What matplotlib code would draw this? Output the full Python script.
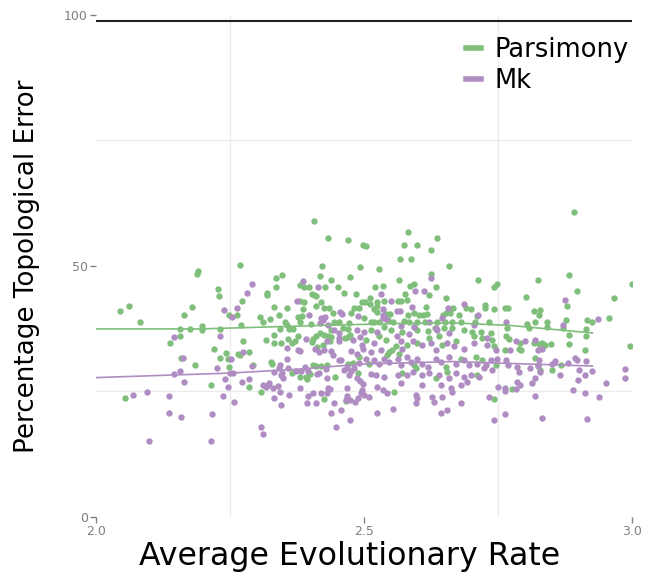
import matplotlib
matplotlib.use("Agg")
import matplotlib.pyplot as plt
from matplotlib.lines import Line2D

# Parsimony: average evolutionary rate vs percentage topological error
pars_rate = [
    2.044, 2.062, 2.082, 2.189, 2.191, 2.228, 2.229, 2.179, 2.164, 2.249, 2.157, 2.176,
    2.197, 2.197, 2.232, 2.138, 2.157, 2.221, 2.242, 2.232, 2.246, 2.159, 2.185, 2.248,
    2.214, 2.055, 2.407, 2.433, 2.471, 2.499, 2.268, 2.422, 2.493, 2.336, 2.348, 2.418,
    2.439, 2.475, 2.336, 2.380, 2.388, 2.398, 2.428, 2.451, 2.463, 2.485, 2.319, 2.320,
    2.403, 2.407, 2.410, 2.273, 2.380, 2.388, 2.420, 2.411, 2.496, 2.333, 2.356, 2.426,
    2.435, 2.482, 2.492, 2.387, 2.442, 2.477, 2.263, 2.306, 2.341, 2.378, 2.385, 2.271,
    2.312, 2.325, 2.353, 2.357, 2.380, 2.402, 2.444, 2.453, 2.473, 2.344, 2.361, 2.368,
    2.461, 2.471, 2.275, 2.318, 2.333, 2.332, 2.346, 2.359, 2.366, 2.372, 2.377, 2.403,
    2.405, 2.411, 2.413, 2.423, 2.419, 2.425, 2.434, 2.438, 2.437, 2.439, 2.465, 2.470,
    2.474, 2.286, 2.268, 2.265, 2.327, 2.329, 2.366, 2.380, 2.406, 2.411, 2.400, 2.392,
    2.394, 2.431, 2.420, 2.447, 2.471, 2.480, 2.491, 2.490, 2.286, 2.308, 2.425, 2.467,
    2.294, 2.583, 2.636, 2.504, 2.575, 2.600, 2.626, 2.567, 2.589, 2.659, 2.529, 2.625,
    2.566, 2.586, 2.594, 2.634, 2.714, 2.521, 2.535, 2.621, 2.577, 2.511, 2.524, 2.512,
    2.537, 2.564, 2.569, 2.580, 2.654, 2.667, 2.502, 2.616, 2.690, 2.700, 2.726, 2.726,
    2.744, 2.748, 2.744, 2.519, 2.525, 2.524, 2.542, 2.549, 2.583, 2.594, 2.603, 2.611,
    2.618, 2.648, 2.653, 2.661, 2.677, 2.712, 2.501, 2.513, 2.520, 2.528, 2.546, 2.555,
    2.575, 2.585, 2.599, 2.614, 2.637, 2.652, 2.664, 2.681, 2.708, 2.734, 2.513, 2.538,
    2.551, 2.572, 2.594, 2.600, 2.619, 2.633, 2.650, 2.665, 2.687, 2.703, 2.718, 2.737,
    2.529, 2.504, 2.541, 2.547, 2.553, 2.560, 2.581, 2.600, 2.622, 2.641, 2.647, 2.672,
    2.706, 2.721, 2.740, 2.743, 2.510, 2.544, 2.566, 2.594, 2.597, 2.653, 2.681, 2.709,
    2.721, 2.746, 2.572, 2.634, 2.557, 2.656, 2.712, 2.743, 2.893, 2.883, 2.825, 3.000,
    2.898, 2.802, 2.967, 2.879, 2.763, 2.769, 2.817, 2.830, 2.827, 2.878, 2.916, 2.927,
    2.957, 2.804, 2.819, 2.843, 2.843, 2.768, 2.809, 2.872, 2.915, 2.766, 2.771, 2.883,
    2.915, 2.791, 2.794, 2.790, 2.818, 2.827, 2.833, 2.838, 2.849, 2.763, 2.883, 2.913,
    2.998, 2.820, 2.825, 2.869, 2.852, 2.829, 2.777,
]
pars_error = [
    40.9, 42.0, 38.8, 48.4, 49.0, 45.4, 44.0, 41.8, 40.2, 40.1, 37.4, 37.4,
    38.0, 37.2, 37.4, 34.5, 35.9, 33.4, 32.7, 31.7, 31.4, 31.7, 30.3, 29.9,
    26.2, 23.7, 59.0, 55.5, 55.2, 54.1, 50.2, 49.9, 49.7, 47.6, 48.2, 48.0,
    47.1, 47.8, 45.8, 46.1, 45.8, 45.8, 45.8, 45.7, 44.6, 44.3, 44.2, 44.5,
    44.3, 44.2, 44.0, 42.9, 42.9, 42.7, 42.8, 41.9, 42.7, 41.8, 41.5, 41.6,
    41.5, 41.5, 41.5, 41.3, 40.6, 40.5, 40.1, 39.8, 40.1, 39.7, 40.0, 38.1,
    38.7, 39.3, 38.7, 38.2, 38.7, 38.4, 38.7, 38.7, 38.6, 37.4, 37.4, 37.4,
    37.5, 37.4, 35.0, 35.1, 36.2, 34.5, 34.5, 35.3, 34.6, 34.9, 35.9, 34.7,
    35.3, 35.9, 33.8, 34.2, 36.5, 36.1, 35.9, 37.2, 34.9, 35.7, 35.5, 35.7,
    36.1, 32.9, 32.3, 32.5, 30.9, 30.5, 28.6, 27.9, 30.2, 30.1, 28.4, 27.8,
    27.4, 30.3, 30.1, 27.9, 30.4, 30.7, 31.9, 28.6, 25.9, 24.8, 23.4, 23.1,
    30.3, 56.7, 55.5, 54.0, 54.1, 54.2, 53.1, 51.3, 51.3, 49.9, 49.4, 48.4,
    47.1, 46.0, 46.4, 45.7, 47.1, 45.7, 46.0, 44.2, 44.3, 43.6, 42.8, 42.4,
    42.9, 42.9, 42.9, 43.2, 43.5, 41.6, 42.7, 41.8, 41.5, 41.3, 42.2, 41.6,
    45.8, 46.3, 41.3, 41.3, 40.8, 42.0, 40.3, 40.4, 40.2, 40.5, 40.2, 40.2,
    40.4, 40.2, 40.5, 40.5, 40.2, 40.0, 39.5, 38.8, 38.7, 38.8, 39.2, 38.7,
    39.0, 38.8, 38.8, 38.8, 38.8, 38.7, 38.7, 38.7, 38.8, 38.7, 37.2, 37.8,
    37.2, 36.8, 37.8, 37.2, 37.0, 37.5, 37.5, 37.5, 37.2, 36.8, 36.8, 36.5,
    35.9, 35.2, 35.2, 32.9, 33.2, 33.9, 34.2, 34.5, 35.5, 35.9, 34.2, 34.9,
    35.9, 35.5, 35.2, 33.9, 30.5, 32.2, 32.5, 30.2, 29.6, 29.9, 31.5, 31.9,
    31.2, 30.2, 28.6, 27.6, 24.9, 28.9, 28.2, 23.4, 60.8, 48.1, 47.1, 46.3,
    45.0, 43.8, 43.6, 42.0, 41.5, 41.5, 41.0, 41.2, 40.2, 39.1, 39.2, 38.7,
    39.5, 38.4, 38.7, 38.7, 37.8, 37.5, 37.5, 37.5, 37.4, 35.9, 35.4, 36.1,
    35.9, 34.5, 33.2, 33.4, 34.5, 34.3, 34.5, 34.1, 34.4, 33.2, 34.4, 33.2,
    34.0, 31.7, 30.3, 30.3, 29.2, 29.2, 25.4,
]

# Mk model
mk_rate = [
    2.239, 2.146, 2.232, 2.163, 2.225, 2.157, 2.145, 2.165, 2.240, 2.246, 2.069, 2.095,
    2.136, 2.238, 2.137, 2.159, 2.217, 2.098, 2.214, 2.387, 2.291, 2.281, 2.415, 2.263,
    2.376, 2.456, 2.460, 2.253, 2.398, 2.420, 2.428, 2.490, 2.418, 2.423, 2.433, 2.357,
    2.377, 2.381, 2.392, 2.409, 2.416, 2.425, 2.439, 2.443, 2.432, 2.453, 2.454, 2.444,
    2.454, 2.479, 2.493, 2.487, 2.497, 2.499, 2.476, 2.487, 2.275, 2.252, 2.292, 2.344,
    2.342, 2.356, 2.332, 2.345, 2.347, 2.349, 2.358, 2.373, 2.383, 2.390, 2.395, 2.412,
    2.417, 2.430, 2.431, 2.453, 2.458, 2.463, 2.469, 2.472, 2.476, 2.482, 2.491, 2.487,
    2.493, 2.498, 2.250, 2.255, 2.273, 2.286, 2.312, 2.317, 2.322, 2.323, 2.331, 2.339,
    2.333, 2.344, 2.360, 2.381, 2.345, 2.395, 2.406, 2.420, 2.431, 2.433, 2.437, 2.394,
    2.411, 2.444, 2.457, 2.439, 2.468, 2.469, 2.474, 2.466, 2.484, 2.490, 2.495, 2.497,
    2.475, 2.448, 2.258, 2.308, 2.311, 2.625, 2.596, 2.613, 2.532, 2.551, 2.590, 2.657,
    2.687, 2.536, 2.562, 2.567, 2.535, 2.714, 2.647, 2.621, 2.535, 2.541, 2.569, 2.594,
    2.635, 2.706, 2.501, 2.525, 2.562, 2.585, 2.637, 2.659, 2.731, 2.519, 2.569, 2.572,
    2.591, 2.609, 2.625, 2.634, 2.656, 2.669, 2.687, 2.706, 2.731, 2.746, 2.513, 2.532,
    2.504, 2.519, 2.529, 2.538, 2.547, 2.563, 2.569, 2.581, 2.588, 2.600, 2.609, 2.619,
    2.634, 2.644, 2.659, 2.672, 2.687, 2.697, 2.712, 2.728, 2.737, 2.749, 2.513, 2.522,
    2.538, 2.563, 2.569, 2.581, 2.591, 2.609, 2.622, 2.641, 2.659, 2.672, 2.687, 2.700,
    2.715, 2.725, 2.740, 2.681, 2.693, 2.662, 2.644, 2.609, 2.525, 2.535, 2.544, 2.510,
    2.501, 2.597, 2.600, 2.597, 2.628, 2.631, 2.647, 2.665, 2.681, 2.734, 2.525, 2.555,
    2.644, 2.656, 2.743, 2.875, 2.938, 2.765, 2.872, 2.785, 2.801, 2.819, 2.825, 2.832,
    2.773, 2.827, 2.852, 2.857, 2.881, 2.894, 2.898, 2.915, 2.766, 2.769, 2.787, 2.789,
    2.810, 2.830, 2.825, 2.867, 2.902, 2.913, 2.926, 2.987, 2.987, 2.819, 2.815, 2.787,
    2.791, 2.900, 2.953, 2.751, 2.763, 2.764, 2.785, 2.890, 2.914, 2.939, 2.820, 2.764,
    2.832, 2.917,
]
mk_error = [
    41.1, 35.7, 35.9, 31.7, 29.6, 29.0, 28.4, 26.8, 27.4, 25.8, 24.2, 24.8,
    24.1, 24.1, 20.7, 19.9, 20.4, 15.1, 15.1, 46.9, 46.4, 44.5, 45.8, 41.5,
    42.9, 40.8, 40.4, 39.7, 40.2, 39.5, 39.8, 39.9, 38.6, 39.2, 38.2, 33.7,
    33.3, 33.0, 35.3, 33.4, 32.9, 33.3, 33.1, 32.2, 35.0, 35.0, 35.5, 37.2,
    36.5, 35.2, 35.8, 37.2, 34.2, 33.5, 33.0, 32.5, 32.9, 31.5, 30.1, 30.3,
    29.6, 31.4, 28.9, 28.2, 28.6, 27.7, 29.7, 29.0, 29.1, 29.8, 29.0, 28.4,
    28.7, 29.4, 27.6, 31.3, 31.3, 29.2, 29.6, 28.2, 29.0, 29.7, 30.7, 27.6,
    27.0, 26.4, 28.6, 28.7, 26.9, 27.5, 26.2, 25.9, 26.2, 26.7, 25.6, 26.1,
    23.6, 24.8, 24.2, 25.6, 22.2, 24.1, 24.7, 24.7, 24.7, 25.7, 25.4, 22.7,
    22.7, 22.7, 21.2, 20.6, 25.6, 24.0, 23.2, 23.2, 22.8, 23.7, 24.6, 25.2,
    19.3, 17.9, 22.9, 17.8, 16.4, 47.6, 45.0, 45.0, 44.3, 42.9, 41.7, 41.6,
    42.3, 41.4, 41.0, 41.0, 40.2, 40.2, 39.5, 38.8, 39.5, 39.3, 38.0, 37.8,
    37.5, 38.2, 36.8, 36.7, 36.0, 36.3, 37.2, 36.5, 35.5, 34.5, 34.9, 33.5,
    34.9, 34.2, 34.5, 33.2, 34.5, 33.9, 33.5, 34.5, 34.2, 33.2, 32.9, 33.2,
    31.5, 31.2, 30.5, 31.5, 30.9, 31.5, 30.2, 31.9, 30.9, 31.5, 30.5, 29.9,
    31.5, 30.9, 31.9, 30.5, 31.2, 30.2, 30.5, 30.2, 31.2, 31.5, 28.4, 28.2,
    27.9, 28.2, 26.6, 28.2, 28.9, 28.2, 28.6, 28.2, 27.6, 28.6, 27.9, 28.2,
    27.9, 29.6, 29.2, 26.2, 26.9, 25.6, 26.2, 26.2, 25.9, 25.2, 24.6, 23.9,
    24.2, 24.2, 23.6, 22.6, 23.9, 22.9, 23.9, 24.9, 22.6, 23.9, 20.6, 21.4,
    20.6, 21.2, 19.2, 43.2, 39.4, 38.7, 38.1, 34.9, 34.9, 35.2, 33.2, 33.5,
    33.2, 31.3, 30.5, 31.0, 30.7, 31.7, 31.2, 31.1, 31.2, 30.3, 29.9, 28.9,
    29.7, 28.9, 30.0, 28.2, 29.2, 28.2, 29.0, 29.4, 27.6, 27.6, 26.6, 26.9,
    26.2, 27.2, 26.6, 25.9, 25.6, 25.0, 25.4, 25.2, 24.6, 23.9, 24.1, 20.4,
    19.7, 19.4,
]

# smoothed trend lines
pars_smooth_x = [2.0, 2.194, 2.418, 2.568, 2.667, 2.773, 2.927]
pars_smooth_y = [37.4, 37.4, 38.1, 38.5, 38.6, 38.1, 36.6]
mk_smooth_x = [2.0, 2.250, 2.381, 2.499, 2.667, 2.751, 2.927]
mk_smooth_y = [27.7, 28.6, 29.4, 30.4, 30.9, 30.6, 30.0]

green = "#7fbf7b"
purple = "#af8dc3"
tick_grey = "#808080"

fig = plt.figure(figsize=(6.51, 5.73), dpi=100)
ax = fig.add_axes([0.1475, 0.0986, 0.8226, 0.8752])

ax.scatter(pars_rate, pars_error, s=21, color=green, linewidths=0, zorder=2)
ax.scatter(mk_rate, mk_error, s=21, color=purple, linewidths=0, zorder=2)
ax.plot(pars_smooth_x, pars_smooth_y, color=green, lw=1.2, zorder=3)
ax.plot(mk_smooth_x, mk_smooth_y, color=purple, lw=1.2, zorder=3)

ax.axhline(98.8, color="#222222", lw=1.5, zorder=3)

ax.set_xlim(2.0, 3.0)
ax.set_ylim(0, 100)
ax.set_xticks([2.0, 2.5, 3.0])
ax.set_xticklabels(["2.0", "2.5", "3.0"])
ax.set_yticks([0, 50, 100])
ax.set_xticks([2.25, 2.75], minor=True)
ax.set_yticks([25, 75], minor=True)
ax.grid(which="minor", color="#ebebeb", lw=1)
ax.grid(which="major", visible=False)
ax.set_axisbelow(True)
for s in ax.spines.values():
    s.set_visible(False)
ax.tick_params(which="major", length=4, width=1, color=tick_grey,
               labelcolor=tick_grey, labelsize=9, pad=2)
ax.tick_params(which="minor", length=0)

ax.set_xlabel("Average Evolutionary Rate", fontsize=22.8, labelpad=2, x=0.473)
ax.set_ylabel("Percentage Topological Error", fontsize=18.8, labelpad=17)

handles = [Line2D([], [], color=green, lw=4), Line2D([], [], color=purple, lw=4)]
ax.legend(handles, ["Parsimony", "Mk"], loc="upper right", bbox_to_anchor=(1.004, 0.967),
          frameon=False, fontsize=18.5, handlelength=0.62, handletextpad=0.5,
          labelspacing=0.2, borderaxespad=0.0, borderpad=0.2)

fig.savefig("out.png", dpi=100)
